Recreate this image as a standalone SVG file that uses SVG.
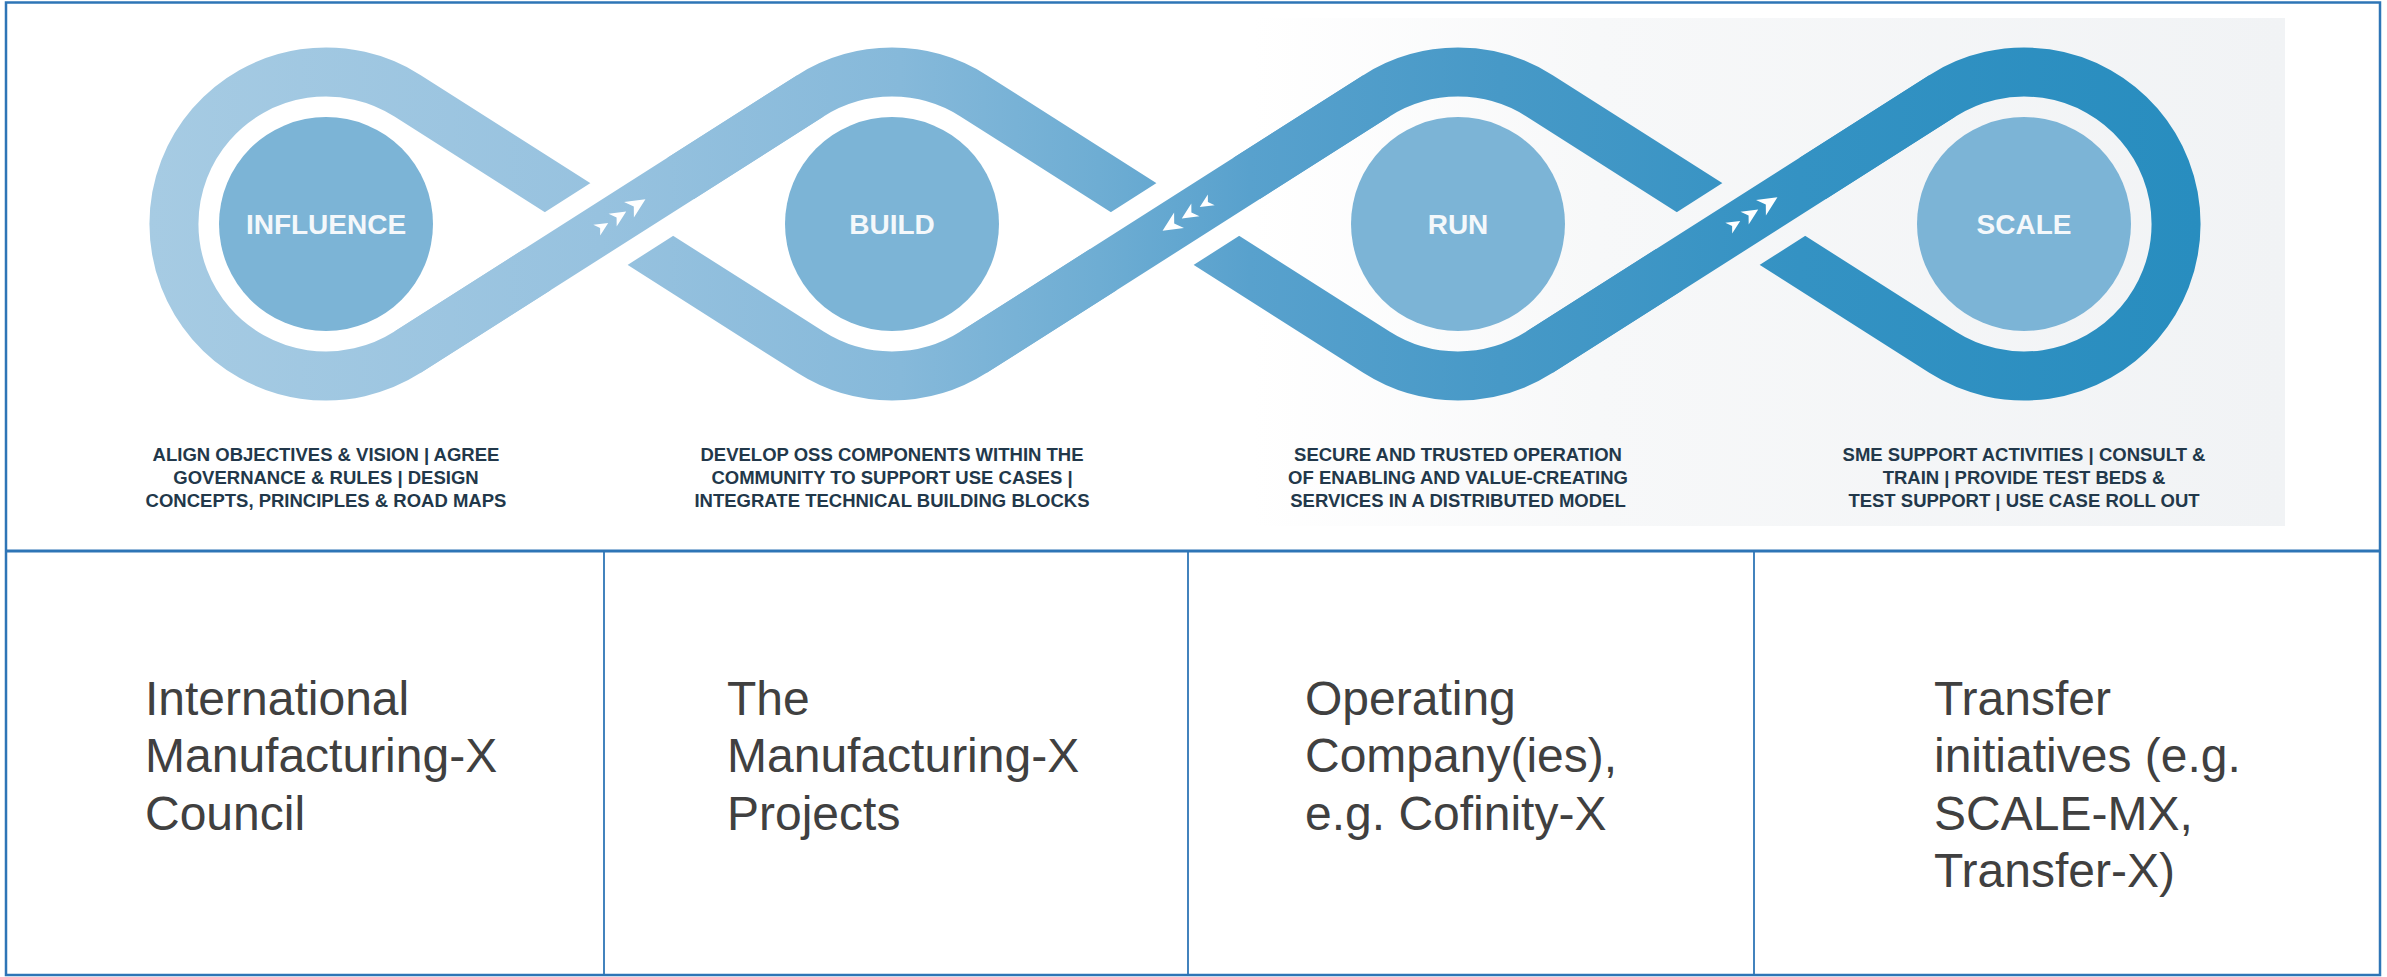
<svg xmlns="http://www.w3.org/2000/svg" xmlns:xlink="http://www.w3.org/1999/xlink" width="2387" height="977" viewBox="0 0 2387 977">
<style>
.band{fill:none;stroke:url(#bandGrad);stroke-width:49;stroke-linecap:butt;stroke-linejoin:round}
.disc{fill:#7CB4D6}
.lbl{font-family:"Liberation Sans",Arial,sans-serif;font-weight:bold;font-size:28px;fill:#F4F8FB;text-anchor:middle}
.cap{font-family:"Liberation Sans",Arial,sans-serif;font-weight:bold;font-size:18.5px;fill:#22384A;text-anchor:middle}
.cell{font-family:"Liberation Sans",Arial,sans-serif;font-size:48px;fill:#404040}
.grid{fill:none;stroke:#2E75B6}
.arrow{fill:#FFFFFF}
</style>
<defs>
<linearGradient id="bandGrad" gradientUnits="userSpaceOnUse" x1="150" y1="0" x2="2200" y2="0">
<stop offset="0" stop-color="#A6CBE3"/>
<stop offset="0.22" stop-color="#97C2DF"/>
<stop offset="0.366" stop-color="#86B9DA"/>
<stop offset="0.463" stop-color="#6EADD3"/>
<stop offset="0.537" stop-color="#58A1CD"/>
<stop offset="0.659" stop-color="#4799C7"/>
<stop offset="0.805" stop-color="#3492C3"/>
<stop offset="1" stop-color="#288DBF"/>
</linearGradient>
<linearGradient id="bgGrad" gradientUnits="userSpaceOnUse" x1="134" y1="0" x2="2285" y2="0">
<stop offset="0" stop-color="#FFFFFF"/>
<stop offset="0.52" stop-color="#FFFFFF"/>
<stop offset="0.68" stop-color="#F7F8F9"/>
<stop offset="1" stop-color="#F1F3F5"/>
</linearGradient>
<mask id="gaps" maskUnits="userSpaceOnUse" x="0" y="0" width="2387" height="977">
<rect x="0" y="0" width="2387" height="977" fill="#FFFFFF"/>
<path d="M537.3 269.7 L680.7 178.3 M1103.3 269.7 L1246.7 178.3 M1669.3 269.7 L1812.7 178.3" stroke="#000000" stroke-width="89" fill="none"/>
</mask>
<path id="dart" d="M9,0 L-8,-8 L-3,0 L-8,8 Z"/>
</defs>

<rect x="134" y="18" width="2151" height="508" fill="url(#bgGrad)"/>

<g id="connectors">
<path class="band" mask="url(#gaps)" d="M407.6 95.8 L810.4 352.2 A152 152 0 0 0 973.6 352.2 L1376.4 95.8 A152 152 0 0 1 1539.6 95.8 L1942.4 352.2 A152 152 0 1 0 1942.4 95.8 L1539.6 352.2 A152 152 0 0 1 1376.4 352.2 L973.6 95.8 A152 152 0 0 0 810.4 95.8 L407.6 352.2 A152 152 0 1 1 407.6 95.8 Z"/>
<path class="band" d="M407.6 352.2 L810.4 95.8 M973.6 352.2 L1376.4 95.8 M1539.6 352.2 L1942.4 95.8"/>
<g transform="translate(619,216) rotate(-32.49)">
<use href="#dart" class="arrow" transform="translate(-20,0) scale(0.8)"/>
<use href="#dart" class="arrow" transform="scale(0.95)"/>
<use href="#dart" class="arrow" transform="translate(21,0) scale(1.15)"/>
</g>
<g transform="translate(1189,214) rotate(147.51)">
<use href="#dart" class="arrow" transform="translate(-20,0) scale(0.8)"/>
<use href="#dart" class="arrow" transform="scale(0.95)"/>
<use href="#dart" class="arrow" transform="translate(21,0) scale(1.15)"/>
</g>
<g transform="translate(1751,214) rotate(-32.49)">
<use href="#dart" class="arrow" transform="translate(-20,0) scale(0.8)"/>
<use href="#dart" class="arrow" transform="scale(0.95)"/>
<use href="#dart" class="arrow" transform="translate(21,0) scale(1.15)"/>
</g>
</g>

<g id="node-influence">
<circle class="disc" cx="326" cy="224" r="107"/>
<text class="lbl" x="326" y="234">INFLUENCE</text>
<text class="cap" x="326" y="461">ALIGN OBJECTIVES &amp; VISION | AGREE</text>
<text class="cap" x="326" y="484">GOVERNANCE &amp; RULES | DESIGN</text>
<text class="cap" x="326" y="507">CONCEPTS, PRINCIPLES &amp; ROAD MAPS</text>
</g>
<g id="node-build">
<circle class="disc" cx="892" cy="224" r="107"/>
<text class="lbl" x="892" y="234">BUILD</text>
<text class="cap" x="892" y="461">DEVELOP OSS COMPONENTS WITHIN THE</text>
<text class="cap" x="892" y="484">COMMUNITY TO SUPPORT USE CASES |</text>
<text class="cap" x="892" y="507">INTEGRATE TECHNICAL BUILDING BLOCKS</text>
</g>
<g id="node-run">
<circle class="disc" cx="1458" cy="224" r="107"/>
<text class="lbl" x="1458" y="234">RUN</text>
<text class="cap" x="1458" y="461">SECURE AND TRUSTED OPERATION</text>
<text class="cap" x="1458" y="484">OF ENABLING AND VALUE-CREATING</text>
<text class="cap" x="1458" y="507">SERVICES IN A DISTRIBUTED MODEL</text>
</g>
<g id="node-scale">
<circle class="disc" cx="2024" cy="224" r="107"/>
<text class="lbl" x="2024" y="234">SCALE</text>
<text class="cap" x="2024" y="461">SME SUPPORT ACTIVITIES | CONSULT &amp;</text>
<text class="cap" x="2024" y="484">TRAIN | PROVIDE TEST BEDS &amp;</text>
<text class="cap" x="2024" y="507">TEST SUPPORT | USE CASE ROLL OUT</text>
</g>

<g id="table">
<rect class="grid" x="6" y="2.5" width="2374" height="972.5" stroke-width="2.5"/>
<line class="grid" x1="6" y1="551" x2="2380" y2="551" stroke-width="3"/>
<line class="grid" x1="604" y1="551" x2="604" y2="975" stroke-width="1.8"/>
<line class="grid" x1="1188" y1="551" x2="1188" y2="975" stroke-width="1.8"/>
<line class="grid" x1="1754" y1="551" x2="1754" y2="975" stroke-width="1.8"/>
</g>

<g id="cell-council">
<text class="cell" x="145" y="715">International</text>
<text class="cell" x="145" y="772">Manufacturing-X</text>
<text class="cell" x="145" y="830">Council</text>
</g>
<g id="cell-projects">
<text class="cell" x="727" y="715">The</text>
<text class="cell" x="727" y="772">Manufacturing-X</text>
<text class="cell" x="727" y="830">Projects</text>
</g>
<g id="cell-operating">
<text class="cell" x="1305" y="715">Operating</text>
<text class="cell" x="1305" y="772">Company(ies),</text>
<text class="cell" x="1305" y="830">e.g. Cofinity-X</text>
</g>
<g id="cell-transfer">
<text class="cell" x="1934" y="715">Transfer</text>
<text class="cell" x="1934" y="772">initiatives (e.g.</text>
<text class="cell" x="1934" y="830">SCALE-MX,</text>
<text class="cell" x="1934" y="887">Transfer-X)</text>
</g>
</svg>
